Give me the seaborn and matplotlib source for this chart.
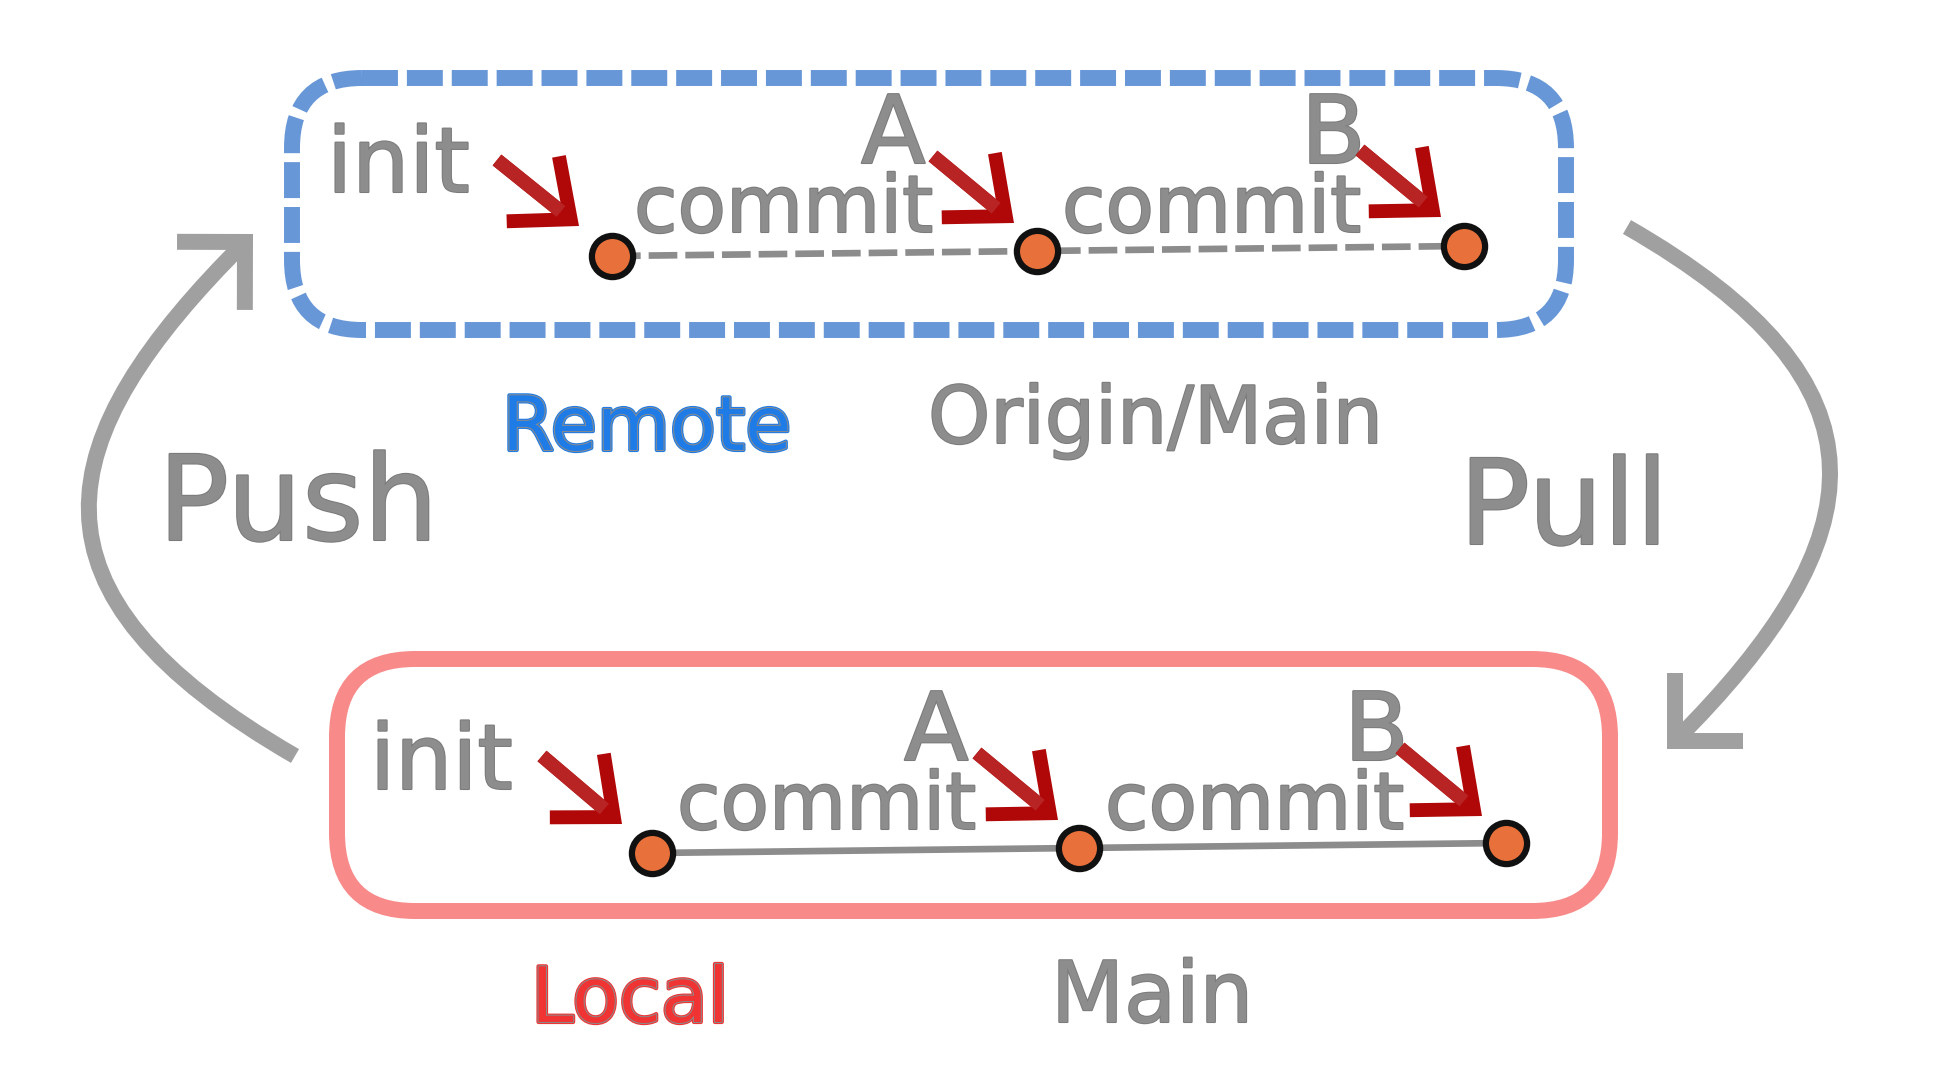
import matplotlib
matplotlib.use("Agg")
import matplotlib.pyplot as plt
import matplotlib.patheffects as pe
from matplotlib.patches import FancyBboxPatch, FancyArrowPatch, ArrowStyle
from matplotlib.path import Path
import pandas as pd
import seaborn as sns

# ---- content ----
commits = ["init", "A", "B"]
commit_word = "commit"
remote_name, remote_branch = "Remote", "Origin/Main"
local_name, local_branch = "Local", "Main"
push_word, pull_word = "Push", "Pull"

# ---- layout (pixel coords of a 1940x1092 canvas, y going down) ----
remote_x = [612, 1037, 1464]
remote_y = [256, 251, 246]
local_x = [652, 1079, 1506]
local_y = [853, 848, 843]

GRAY = "#8d8d8d"
BLUE = "#1f7ce6"
RED = "#f03434"

sns.set_style("white")
fig = plt.figure(figsize=(19.4, 10.92), dpi=100)
ax = fig.add_axes([0, 0, 1, 1])

gray_fx = [pe.Stroke(linewidth=1.5, foreground="#7b7b7b"), pe.Normal()]


def label(x, y, s, size, color=GRAY):
    if color == GRAY:
        fx = gray_fx
    else:
        fx = [pe.Stroke(linewidth=3.0, foreground=color),
              pe.Stroke(linewidth=1.4, foreground="#8b8b8b"), pe.Normal()]
    ax.text(x, y, s, fontsize=size, color=color, ha="left", va="baseline",
            path_effects=fx, zorder=3)


def red_arrow(p0, p1):
    style = ArrowStyle("->", head_length=35, head_width=30)
    ax.add_patch(FancyArrowPatch(p0, p1, arrowstyle=style, mutation_scale=1,
                                 lw=10, color="#b00808", shrinkA=0, shrinkB=0,
                                 capstyle="butt", joinstyle="miter", zorder=4))
    dx, dy = p1[0] - p0[0], p1[1] - p0[1]
    ax.plot([p0[0], p0[0] + 0.78 * dx], [p0[1], p0[1] + 0.78 * dy],
            color="#b82424", lw=10, solid_capstyle="butt", zorder=5)


# boxes
ax.add_patch(FancyBboxPatch((292, 78), 1274, 252,
                            boxstyle="round,pad=0,rounding_size=70",
                            fill=False, ec="#6897d8", lw=11.5,
                            ls=(0, (2.25, 0.56)), zorder=1))
ax.add_patch(FancyBboxPatch((337, 659), 1273, 252,
                            boxstyle="round,pad=0,rounding_size=78",
                            fill=False, ec="#f88a8a", lw=11.5, zorder=1))

# commit chains
nodes = pd.DataFrame({
    "x": remote_x + local_x,
    "y": remote_y + local_y,
    "row": ["remote"] * len(remote_x) + ["local"] * len(local_x),
})
sns.lineplot(data=nodes[nodes.row == "remote"], x="x", y="y", ax=ax,
             color="#8c8c8c", linewidth=4.8, linestyle=(0, (4.3, 1.2)),
             sort=False, estimator=None, legend=False, zorder=2)
sns.lineplot(data=nodes[nodes.row == "local"], x="x", y="y", ax=ax,
             color="#8c8c8c", linewidth=4.8, sort=False, estimator=None,
             legend=False, zorder=2)
sns.scatterplot(data=nodes, x="x", y="y", ax=ax, s=880, color="#e8703a",
                edgecolor="#111111", linewidth=4.5, zorder=6, legend=False)

# commit labels
for dx, dy in [(0, 0), (43, 597)]:
    label(327 + dx, 192 + dy, commits[0], 65)
    label(861 + dx, 163 + dy, commits[1], 68)
    label(1301 + dx, 163 + dy, commits[2], 68)
    label(634 + dx, 232 + dy, commit_word, 57)
    label(1062 + dx, 232 + dy, commit_word, 57)

# red arrows
for p0, p1 in [((497, 160), (579, 226)), ((933, 156), (1014, 223)),
               ((1360, 150), (1441, 217)), ((542, 756), (622, 824)),
               ((977, 753), (1058, 820)), ((1400, 748), (1482, 816))]:
    red_arrow(p0, p1)

# names
label(502, 450, remote_name, 54, BLUE)
label(928, 443, remote_branch, 57)
label(531, 1022, local_name, 55, RED)
label(1051, 1022, local_branch, 61)
label(158, 540, push_word, 85)
label(1459, 544, pull_word, 85)

# push / pull curves (cubic paths)
curve = ArrowStyle("->", head_length=34.6, head_width=34.6)
codes = [Path.MOVETO, Path.CURVE4, Path.CURVE4, Path.CURVE4]
push_path = Path([(295, 756), (11, 592), (46, 440), (253, 234)], codes)
pull_path = Path([(1627, 227), (1901, 384), (1878, 538), (1667, 749)], codes)
for p in [push_path, pull_path]:
    ax.add_patch(FancyArrowPatch(path=p, arrowstyle=curve, mutation_scale=1,
                                 lw=11.5, color="#a0a0a0", capstyle="butt",
                                 joinstyle="miter", zorder=1))

ax.set_xlim(0, 1940)
ax.set_ylim(1092, 0)
ax.axis("off")

fig.savefig("out.png", dpi=100)
